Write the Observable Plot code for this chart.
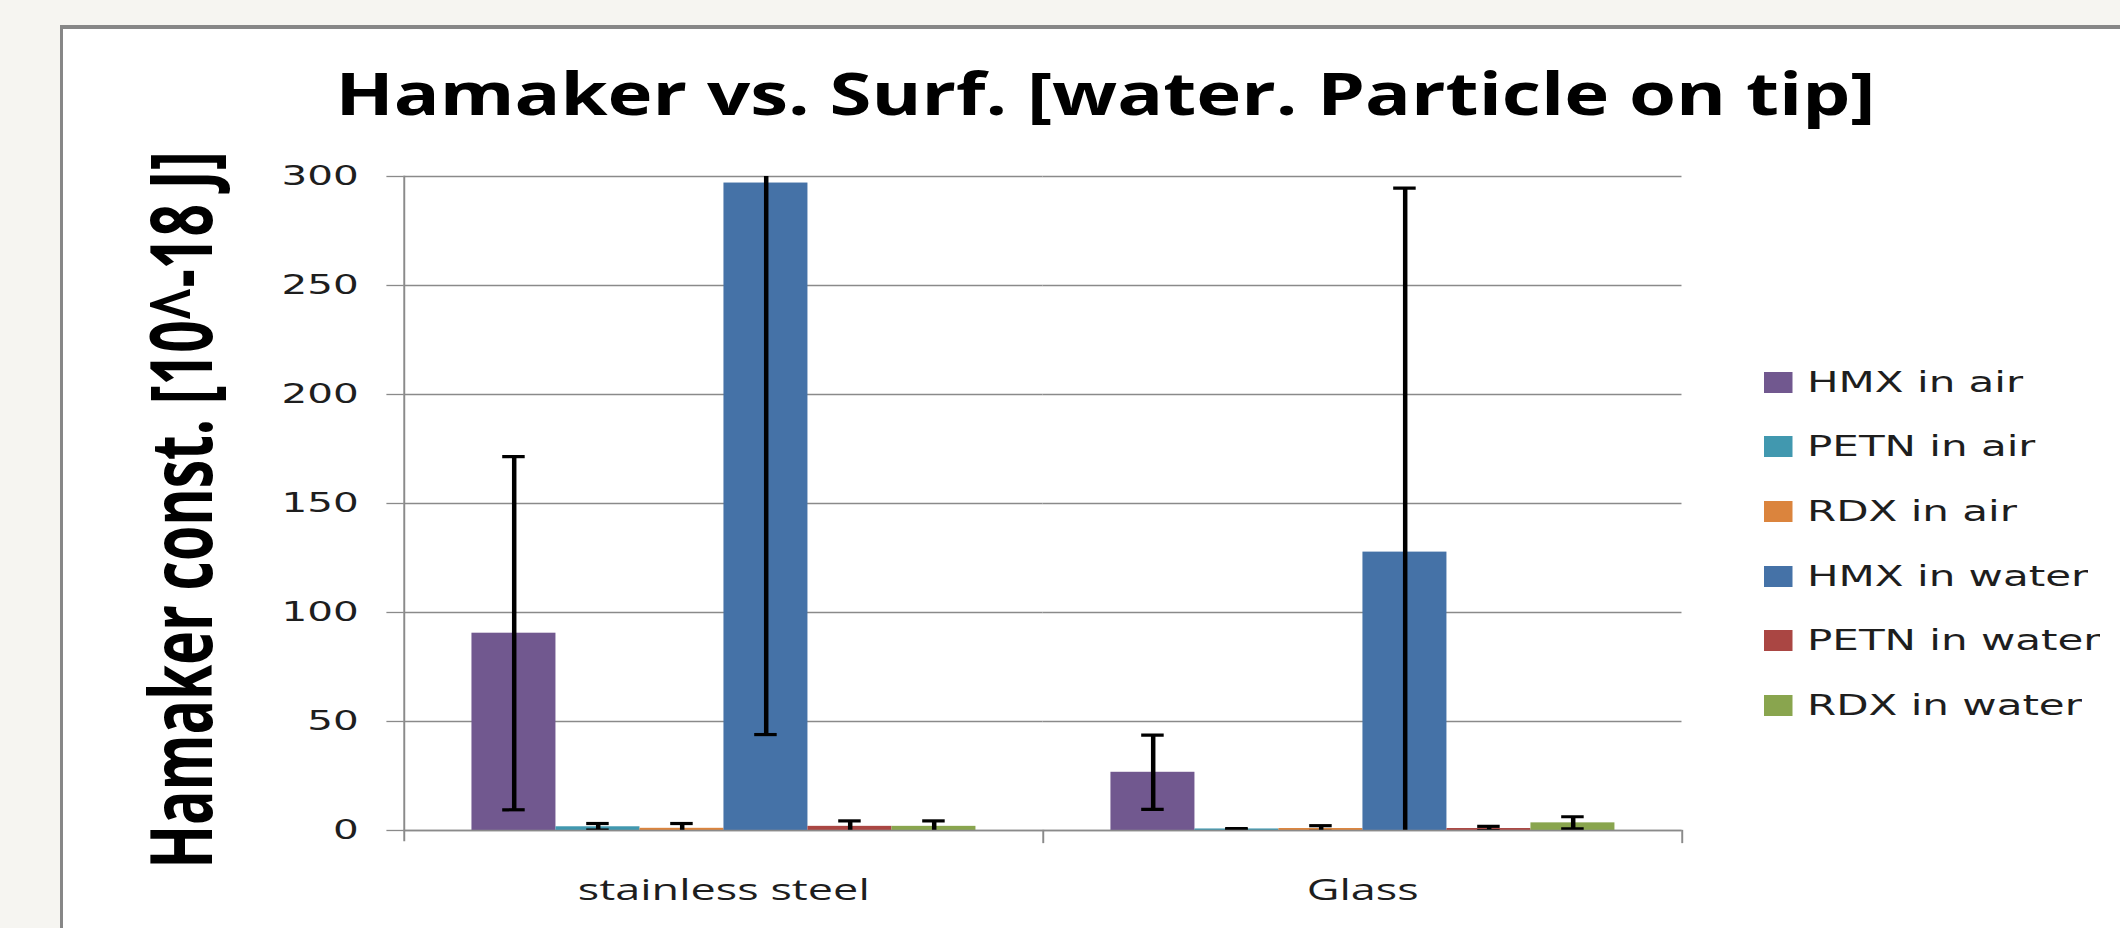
<!DOCTYPE html>
<html>
<head>
<meta charset="utf-8">
<script src="https://cdn.jsdelivr.net/npm/d3@7"></script>
<script src="https://cdn.jsdelivr.net/npm/@observablehq/plot@0.6"></script>
<style>
  html, body { margin: 0; padding: 0; background: #f6f5f1; width: 2120px; height: 928px; overflow: hidden; }
  #stage { position: absolute; left: 0; top: 0; width: 1413.333px; height: 928px; transform: scaleX(1.5); transform-origin: 0 0; }
  #panel { position: absolute; left: 40px; top: 25px; width: 1400px; height: 920px; background: #fff;
           border-top: 4px solid #878787; border-left: 2.7px solid #878787; }
  #chart { position: absolute; left: 0; top: 0; }
  #title { position: absolute; left: 37px; width: 1400px; top: 63px; text-align: center;
           font: 700 59px/59px "Open Sans", sans-serif; color: #000; transform: scaleX(0.86); white-space: nowrap; }
  #ylabel { position: absolute; left: 120px; top: 510px; font: 700 57px/57px "Open Sans", sans-serif; color: #000;
            transform: translate(-50%, -50%) rotate(-90deg); white-space: nowrap; }
  #legend { position: absolute; left: 1176px; top: 350px; }
  #chart g[aria-label="y-axis tick label"] { font-family: "DejaVu Sans", sans-serif !important; font-size: 27px !important; fill: #1e1e1e; color: #1e1e1e; }
  #chart g[aria-label="fx-axis tick label"] { font-family: "Open Sans", sans-serif !important; font-size: 30px !important; fill: #1e1e1e; color: #1e1e1e; }
</style>
</head>
<body>
<div id="stage">
  <div id="panel"></div>
  <div id="chart"></div>
  <div id="title">Hamaker vs. Surf. [water. Particle on tip]</div>
  <div id="ylabel">Hamaker const. [10^-18 J]</div>
  <div id="legend"></div>
</div>
<script>
// ---- data ----
const categories = ["stainless steel", "Glass"];
const series = ["HMX in air", "PETN in air", "RDX in air", "HMX in water", "PETN in water", "RDX in water"];
const colors = ["#71588f", "#4198af", "#db843d", "#4572a7", "#aa4643", "#89a54e"];
const steelValues = [90.5, 1.7, 1.0, 297, 1.9, 1.9];
const steelErrors = [81, 1.5, 2.2, 253, 2.5, 2.5];
const glassValues = [26.7, 0.7, 0.9, 127.7, 0.9, 3.5];
const glassErrors = [17, 0.2, 1.3, 167, 1.0, 2.8];
const yTicks = [0, 50, 100, 150, 200, 250, 300];

const valuesByCategory = [steelValues, glassValues];
const errorsByCategory = [steelErrors, glassErrors];
const data = [];
categories.forEach((c, i) => {
  series.forEach((s, j) => {
    data.push({surface: c, series: s, value: valuesByCategory[i][j], err: errorsByCategory[i][j]});
  });
});

const axisGray = "#8a8a8a";

const chart = Plot.plot({
  width: 1413.333,
  height: 928,
  marginLeft: 268.7,
  marginRight: 291.3,
  marginTop: 176,
  marginBottom: 98,
  style: {background: "transparent", overflow: "visible"},
  fx: {domain: categories, padding: 0, label: null},
  x: {domain: series, paddingInner: 0, paddingOuter: 0.75, axis: null},
  y: {domain: [0, 300], label: null},
  color: {domain: series, range: colors},
  marks: [
    Plot.gridY(yTicks, {stroke: axisGray, strokeOpacity: 1, strokeWidth: 1.3}),
    Plot.barY(data, {fx: "surface", x: "series", y: "value", fill: "series"}),
    Plot.ruleX(data, {fx: "surface", x: "series", y1: d => d.value - d.err, y2: d => d.value + d.err,
                      stroke: "#000", strokeWidth: 3, clip: true}),
    Plot.tickY(data, {fx: "surface", x: "series", y: d => d.value + d.err, insetLeft: 20.5, insetRight: 20.5,
                      stroke: "#000", strokeWidth: 3.2, clip: true}),
    Plot.tickY(data, {fx: "surface", x: "series", y: d => d.value - d.err, insetLeft: 20.5, insetRight: 20.5,
                      stroke: "#000", strokeWidth: 3.2, clip: true}),
    Plot.ruleY([0], {stroke: axisGray, strokeWidth: 1.6}),
    Plot.frame({anchor: "left", facetAnchor: "left", stroke: axisGray, strokeWidth: 1.3, insetBottom: -10}),
    Plot.frame({anchor: "right", stroke: axisGray, strokeWidth: 1.3, insetTop: 654, insetBottom: -12}),
    Plot.axisY(yTicks, {tickSize: 11.4, tickPadding: 19, stroke: axisGray, strokeWidth: 1.3, label: null}),
    Plot.axisFx({anchor: "bottom", tickSize: 0, tickPadding: 48.7, label: null})
  ]
});
document.getElementById("chart").appendChild(chart);

const legend = Plot.legend({
  color: {domain: series, range: colors},
  legend: "swatches",
  columns: 1,
  swatchSize: 20
});
const lg = document.getElementById("legend");
lg.appendChild(legend);
legend.style.margin = "0";
legend.style.font = '28px "DejaVu Sans", sans-serif';
legend.style.color = "#1e1e1e";
legend.style.columns = "auto";
legend.querySelectorAll("svg").forEach(sv => {
  sv.setAttribute("width", 19);
  sv.setAttribute("height", 21);
  sv.style.marginRight = "9.7px";
  sv.style.flexShrink = "0";
  const row = sv.parentElement;
  row.style.display = "flex";
  row.style.alignItems = "center";
  row.style.height = "64.6px";
  row.style.margin = "0";
  row.style.padding = "0";
  row.style.whiteSpace = "nowrap";
  row.style.font = '28px "DejaVu Sans", sans-serif';
});
</script>
</body>
</html>
